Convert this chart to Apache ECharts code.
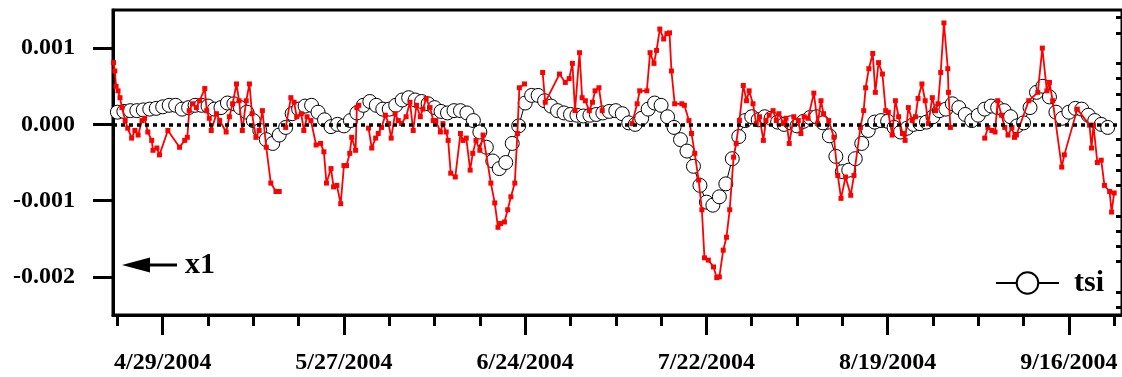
<!DOCTYPE html>
<html><head><meta charset="utf-8">
<script src="https://cdn.jsdelivr.net/npm/echarts@6/dist/echarts.min.js"></script>
<style>html,body{margin:0;padding:0;background:#fff}#c{width:1122px;height:377px}</style>
</head><body><div id="c"></div>
<script>
// x = days after 4/29/2004 ; y = value in units of 0.001
const xTickDays = [0, 28, 56, 84, 112, 140];
const xTickLabels = ['4/29/2004', '5/27/2004', '6/24/2004', '7/22/2004', '8/19/2004', '9/16/2004'];
const xMinorDays = [-7, 7, 14, 21, 35, 42, 49, 63, 70, 77, 91, 98, 105, 119, 126, 133, 147];
const yMajorTicks = [-2, -1, 0, 1];
const yMinorTicks = [-2.4, -2.2, -1.8, -1.6, -1.4, -1.2, -0.8, -0.6, -0.4, -0.2, 0.2, 0.4, 0.6, 0.8, 1.2, 1.4];

const tsiFirstDay = -7;
const tsiValues = [
  0.16,0.17,0.18,0.18,0.19,0.2,0.21,0.23,
  0.25,0.25,0.2,0.22,0.25,0.25,0.24,0.2,0.22,0.28,
  0.27,0.22,0.16,0.05,-0.08,-0.2,-0.25,-0.14,-0.04,0.14,
  0.2,0.24,0.25,0.16,0.06,-0.03,0.0,-0.02,0.05,0.15,
  0.25,0.3,0.25,0.2,0.2,0.25,0.32,0.35,0.32,0.3,
  0.27,0.22,0.17,0.15,0.18,0.18,0.15,0.05,-0.1,-0.3,
  -0.48,-0.58,-0.5,-0.25,-0.02,0.28,0.38,0.38,0.31,0.24,
  0.18,0.15,0.13,0.12,0.11,0.12,0.13,0.15,0.17,0.18,
  0.14,0.02,0.0,0.08,0.2,0.28,0.25,0.1,-0.04,-0.2,
  -0.35,-0.55,-0.8,-1.02,-1.06,-0.95,-0.78,-0.45,-0.16,0.05,
  0.1,0.06,0.1,0.08,0.03,0.0,0.02,-0.02,0.04,0.09,
  0.1,0.02,-0.15,-0.42,-0.62,-0.6,-0.45,-0.25,-0.08,0.03,
  0.05,0.04,-0.04,-0.1,-0.05,0.0,0.01,0.03,0.1,0.18,
  0.2,0.27,0.22,0.13,0.05,0.12,0.2,0.24,0.22,0.18,
  0.1,-0.02,0.02,0.22,0.42,0.5,0.36,0.16,0.08,0.16,
  0.21,0.2,0.12,0.05,0.0,-0.04
];

const redDays = [
  -7.6,-7.4,-7.2,-6.9,-6.6,-6.3,-5.8,-5.4,-4.8,-4.3,-3.8,-3.2,-2.8,-2.3,-1.7,-1.5,-0.9,-0.5,0.8,2.6,
  3.4,3.8,4.1,4.6,5.2,5.7,6.5,6.8,7.2,7.5,8.3,8.8,9.8,10.3,10.8,11.4,11.8,12.3,12.9,13.4,
  13.8,14.4,14.9,15.4,16.0,16.7,17.5,18.0,18.5,19.0,19.8,20.3,20.7,21.4,21.8,22.3,22.9,23.7,24.4,24.9,
  25.3,26.0,26.4,26.9,27.5,28.0,28.4,28.9,29.2,29.8,30.0,30.3,31.0,31.8,32.3,32.9,33.3,33.8,34.4,34.9,
  35.3,35.9,36.4,36.9,37.6,38.2,38.7,39.2,39.8,40.2,40.7,41.3,41.8,42.2,42.9,43.3,43.8,44.1,44.5,45.2,
  46.0,46.4,46.9,47.5,47.9,48.4,49.0,49.5,50.7,51.3,51.8,52.2,52.8,53.3,53.8,54.4,54.8,55.1,55.9,57.0,
  58.7,59.1,61.3,62.2,62.8,63.3,63.7,64.4,64.8,65.3,65.9,66.4,66.8,67.4,67.9,70.0,72.5,73.3,73.7,74.8,
  75.3,75.9,76.3,76.8,77.4,77.9,78.3,78.6,79.1,80.2,80.6,81.3,81.7,82.2,82.8,83.3,83.7,84.3,85.1,85.6,
  86.0,86.6,87.1,87.6,88.2,88.6,89.1,89.7,90.2,90.6,91.2,91.7,92.2,92.8,93.2,93.7,94.3,94.8,95.2,95.9,
  96.3,96.8,97.5,98.2,98.6,99.1,99.7,100.6,101.2,101.7,102.1,102.9,103.7,104.3,104.8,105.5,106.3,106.8,107.8,108.3,
  108.6,109.1,109.7,110.1,110.6,111.2,111.7,112.1,112.7,113.2,113.7,114.3,114.7,115.2,115.8,116.3,116.7,117.3,117.8,118.3,
  118.9,119.4,119.8,120.2,120.7,121.3,121.4,121.7,124.0,127.0,127.5,128.1,128.6,129.0,129.6,130.1,130.6,131.2,131.6,131.9,
  133.8,135.2,135.9,136.6,137.0,137.5,138.9,139.3,141.3,143.2,143.5,143.8,144.4,145.0,145.5,146.3,146.6,147.0
];
const redValues = [
  0.81,0.7,0.5,0.44,0.35,0.22,0.05,-0.05,-0.18,-0.08,-0.14,0.05,0.08,-0.1,-0.21,-0.34,-0.31,-0.4,-0.08,-0.3,
  -0.21,-0.17,0.18,0.27,0.22,0.31,0.47,0.18,0.08,-0.08,0.14,0.05,-0.1,0.1,0.27,0.53,0.31,-0.08,0.31,0.53,
  0.14,-0.17,-0.08,0.18,-0.3,-0.77,-0.88,-0.88,null,-0.04,0.35,0.29,0.1,0.14,-0.08,0.1,0.05,-0.27,-0.25,-0.36,
  -0.77,-0.58,-0.82,-0.8,-1.04,-0.54,-0.54,-0.38,-0.17,-0.34,0.22,0.25,null,-0.05,-0.31,-0.18,-0.12,-0.04,0.12,0.01,
  -0.18,0.14,0.05,0.01,0.1,0.29,-0.08,0.25,0.1,0.2,0.34,0.22,0.05,0.05,-0.1,0.01,-0.1,-0.21,-0.64,-0.69,
  -0.12,-0.21,-0.18,-0.6,-0.38,-0.21,-0.34,-0.14,-0.77,-1.03,-1.35,-1.3,-1.28,-1.12,-0.95,-0.77,-0.12,0.48,0.53,null,
  0.68,0.29,0.66,0.55,0.6,0.8,0.18,0.94,0.35,0.31,0.18,0.29,0.44,0.48,0.18,null,0.01,0.27,0.44,0.44,
  0.94,0.8,0.97,1.25,1.12,1.19,1.2,0.7,0.27,0.27,0.25,0.05,-0.12,-0.38,-0.73,-1.12,-1.75,-1.78,-1.87,-2.01,
  -2.0,-1.65,-1.48,-1.12,-0.43,-0.25,0.05,0.51,0.31,0.44,0.27,0.01,0.1,-0.21,0.05,0.12,0.18,0.05,0.14,0.01,
  0.08,-0.25,0.1,0.05,-0.12,0.1,0.08,0.41,0.01,0.31,0.14,0.05,-0.17,-0.67,-0.97,-0.69,-0.93,-0.67,-0.04,0.18,
  0.48,0.73,0.93,0.42,0.81,0.66,0.18,0.16,-0.14,0.31,0.1,-0.12,-0.21,0.22,0.05,0.1,0.34,0.53,0.31,0.01,
  0.35,0.18,0.27,0.68,1.33,0.73,0.42,-0.04,null,-0.18,-0.04,-0.08,-0.1,0.31,0.12,-0.04,-0.14,-0.04,-0.17,-0.14,
  0.31,0.42,1.0,0.44,0.55,0.31,-0.56,-0.4,0.2,-0.01,-0.31,-0.01,-0.5,-0.47,-0.8,-0.88,-1.15,-0.9
];

const X_MIN = -7.68, X_MAX = 148.21;
const FONT = '"Liberation Serif", "Times New Roman", serif';

const tsiData = tsiValues.map((v, i) => [tsiFirstDay + i, v]);
const redData = redDays.map((d, i) => [d, redValues[i] === null ? '-' : redValues[i]]);

const chart = echarts.init(document.getElementById('c'), null, {renderer: 'canvas'});
chart.setOption({
  animation: false,
  backgroundColor: '#fff',
  grid: {left: 113, top: 10, width: 1015, height: 305, show: true, borderColor: '#000', borderWidth: 3, backgroundColor: 'transparent'},
  legend: {
    data: ['tsi'], left: 995, top: 268, padding: 0,
    itemWidth: 63, itemHeight: 27,
    lineStyle: {width: 2, color: '#000'},
    textStyle: {fontFamily: FONT, fontWeight: 'bold', fontSize: 30, color: '#000', padding: [0, 0, 0, 10]}
  },
  xAxis: [{
    type: 'value', min: X_MIN, max: X_MAX, position: 'bottom',
    axisLine: {show: true, onZero: false, lineStyle: {color: '#000', width: 3}},
    axisTick: {show: true, customValues: xTickDays, length: 20, lineStyle: {color: '#000', width: 3}},
    axisLabel: {show: true, customValues: xTickDays, margin: 36,
      formatter: v => { const i = xTickDays.indexOf(Math.round(v)); return i >= 0 ? xTickLabels[i] : ''; },
      fontFamily: FONT, fontWeight: 'bold', fontSize: 24, color: '#000'},
    splitLine: {show: false}
  }, {
    type: 'value', min: X_MIN, max: X_MAX, position: 'top', offset: -305,
    axisLine: {show: false},
    axisTick: {show: true, inside: true, customValues: xMinorDays, length: 11, lineStyle: {color: '#000', width: 3}},
    axisLabel: {show: false},
    splitLine: {show: false}
  }],
  yAxis: [{
    type: 'value', min: -2.5, max: 1.5, position: 'left',
    axisLine: {show: true, onZero: false, lineStyle: {color: '#000', width: 3}},
    axisTick: {show: true, customValues: yMajorTicks, length: 20, lineStyle: {color: '#000', width: 3}},
    axisLabel: {show: true, customValues: yMajorTicks, margin: 38,
      formatter: v => (v / 1000).toFixed(3),
      fontFamily: FONT, fontWeight: 'bold', fontSize: 24, color: '#000'},
    splitLine: {show: false}
  }, {
    type: 'value', min: -2.5, max: 1.5, position: 'right', offset: -1015,
    axisLine: {show: false},
    axisTick: {show: true, inside: true, customValues: yMinorTicks, length: 12, lineStyle: {color: '#000', width: 3}},
    axisLabel: {show: false},
    splitLine: {show: false}
  }],
  graphic: [
    {type: 'polygon', shape: {points: [[122, 265], [150, 257.5], [150, 272.5]]}, style: {fill: '#000'}},
    {type: 'line', shape: {x1: 149, y1: 265, x2: 177, y2: 265}, style: {stroke: '#000', lineWidth: 3}},
    {type: 'text', x: 185, y: 265, style: {text: 'x1', font: 'bold 30px ' + FONT, fill: '#000', verticalAlign: 'middle'}}
  ],
  series: [{
    name: 'tsi', type: 'line', xAxisIndex: 0, yAxisIndex: 0, data: tsiData,
    symbol: 'circle', symbolSize: 14, showAllSymbol: true,
    itemStyle: {color: '#fff', borderColor: '#000', borderWidth: 1},
    lineStyle: {color: '#000', width: 1},
    z: 2,
    markLine: {silent: true, symbol: 'none', label: {show: false},
      lineStyle: {color: '#000', width: 3.5, type: [4, 4]}, data: [{yAxis: 0}]}
  }, {
    name: 'obs', type: 'line', xAxisIndex: 0, yAxisIndex: 0, data: redData,
    connectNulls: false, symbol: 'rect', symbolSize: 5, showAllSymbol: true,
    itemStyle: {color: '#f00'}, lineStyle: {color: '#f00', width: 1.8},
    z: 3
  }]
});
</script></body></html>
